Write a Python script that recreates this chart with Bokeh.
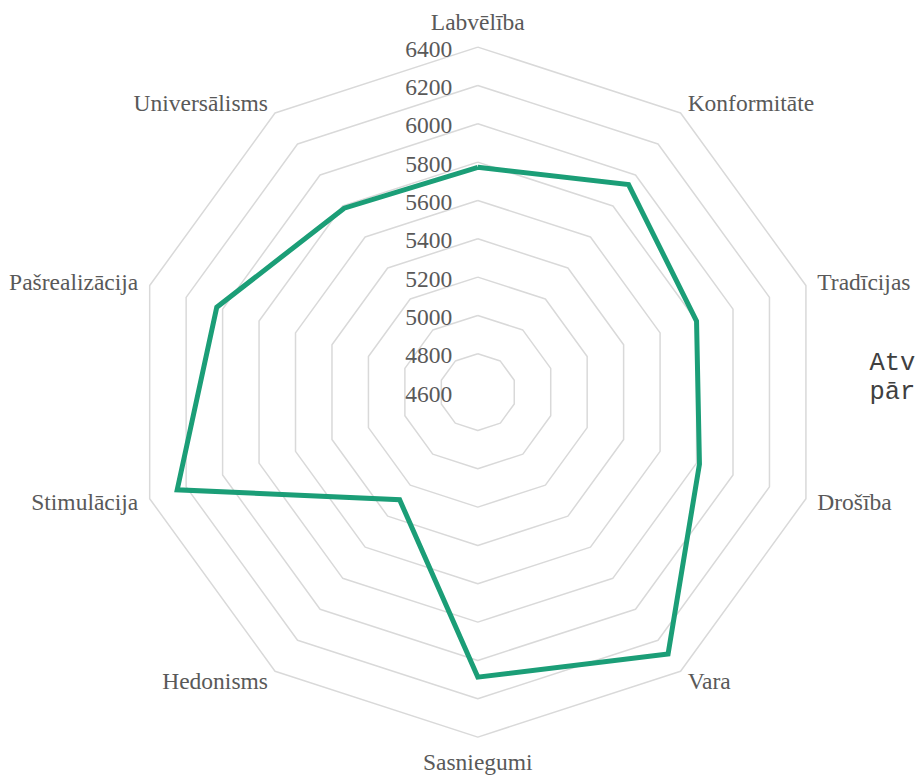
import numpy as np
from bokeh.plotting import figure
from bokeh.models import Range1d, ColumnDataSource
from bokeh.core.properties import value
from bokeh.embed import file_html
from bokeh.resources import INLINE

# ---- data ----
categories = ["Labvēlība", "Konformitāte", "Tradīcijas", "Drošība", "Vara",
              "Sasniegumi", "Hedonisms", "Stimulācija", "Pašrealizācija", "Universālisms"]
values = [5773, 5938, 5800, 5816, 6289, 6087, 5294, 6249, 6032, 5786]
tick_values = [4600, 4800, 5000, 5200, 5400, 5600, 5800, 6000, 6200, 6400]
legend_lines = ["Atvērtība", "pārmaiņām"]

# ---- layout ----
W, H = 916, 777
CX, CY = 477.3, H - 391.6
R = 345.0
VMIN, VMAX = tick_values[0], tick_values[-1]
SERIF = value("Liberation Serif")
LABEL_COLOR = "#595959"


def rad(v):
    return (np.asarray(v, dtype=float) - VMIN) / (VMAX - VMIN) * R


n = len(categories)
ang = np.arange(n) * 2 * np.pi / n

p = figure(width=W, height=H, x_range=Range1d(0, W), y_range=Range1d(0, H),
           output_backend="svg", toolbar_location=None, min_border=0,
           x_axis_location=None, y_axis_location=None)
p.grid.visible = False
p.outline_line_color = None
p.background_fill_color = "white"
p.border_fill_color = "white"

# grid rings
for t in tick_values[1:]:
    r = rad(t)
    xs = list(CX + r * np.sin(ang)) + [CX + r * np.sin(ang[0])]
    ys = list(CY + r * np.cos(ang)) + [CY + r * np.cos(ang[0])]
    p.line(xs, ys, line_color="#d9d9d9", line_width=1.5)

# data line
rv = rad(values)
xs = list(CX + rv * np.sin(ang)) + [CX + rv[0] * np.sin(ang[0])]
ys = list(CY + rv * np.cos(ang)) + [CY + rv[0] * np.cos(ang[0])]
p.line(xs, ys, line_color="#1b9e77", line_width=5, line_join="miter")

# radial tick labels
tsrc = ColumnDataSource(dict(
    x=[CX - 25.6] * len(tick_values),
    y=list(CY + rad(tick_values) - 2),
    text=[str(t) for t in tick_values]))
p.text(x="x", y="y", text="text", source=tsrc, text_align="right",
       text_baseline="middle", text_font=SERIF, text_font_size="23.5px",
       text_color=LABEL_COLOR)

# category labels
rl = R + 12
for a, c in zip(ang, categories):
    s, co = np.sin(a), np.cos(a)
    x, y = CX + rl * s, CY + rl * co
    if abs(s) < 1e-6:
        align = "center"
        base = "bottom" if co > 0 else "top"
    else:
        align = "left" if s > 0 else "right"
        base = "middle"
    p.text(x=[x], y=[y], text=[c], text_align=align, text_baseline=base,
           text_font=SERIF, text_font_size="23.5px", text_color=LABEL_COLOR)

# legend text (cut off at the right edge, as in the original)
p.text(x=[869, 869], y=[H - 363, H - 391.7], text=legend_lines, text_align="left",
       text_baseline="middle", text_font=value("Liberation Mono"),
       text_font_size="25.5px", text_color="#404040")

open("out.html", "w").write(file_html(p, INLINE))
